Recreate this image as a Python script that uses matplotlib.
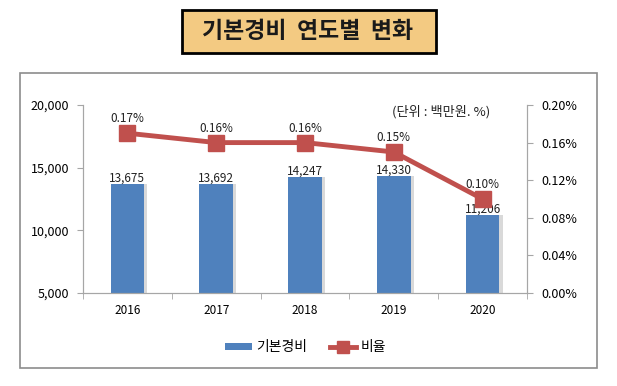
import matplotlib.pyplot as plt
from matplotlib.patches import Rectangle
from matplotlib.lines import Line2D
from matplotlib.patches import Patch

plt.rcParams['font.family'] = ['Noto Sans CJK KR', 'DejaVu Sans']

years = ['2016', '2017', '2018', '2019', '2020']
cost = [13675, 13692, 14247, 14330, 11206]
ratio = [0.17, 0.16, 0.16, 0.15, 0.10]

bar_color = '#4F81BD'
line_color = '#C0504D'
axis_grey = '#A6A6A6'

fig = plt.figure(figsize=(6.17, 3.86), dpi=100)

# outer chart border
fig.patches.append(Rectangle((20 / 617, 1 - 368 / 386), 577 / 617, 295 / 386,
                             transform=fig.transFigure, fill=False,
                             edgecolor='#8C8C8C', linewidth=1.2))

# title box
fig.patches.append(Rectangle((182 / 617, 1 - 53 / 386), 254 / 617, 43 / 386,
                             transform=fig.transFigure, facecolor='#F3CA82',
                             edgecolor='black', linewidth=2))
fig.text(308 / 617, 1 - 32 / 386, '기본경비  연도별  변화', ha='center', va='center',
         fontsize=16.5, fontweight='bold', color='#1a1a1a')

ax = fig.add_axes([83 / 617, 1 - 293 / 386, 444 / 617, 188 / 386])
x = list(range(len(years)))
shadow_x = [i + 0.035 for i in x]
ax.bar(shadow_x, cost, width=0.38, color='#D9D9D9', zorder=1)
bars = ax.bar(x, cost, width=0.38, color=bar_color, zorder=2)
ax.set_ylim(5000, 20000)
ax.set_xlim(-0.5, 4.5)
ax.set_yticks([5000, 10000, 15000, 20000])
ax.set_yticklabels(['{:,}'.format(v) for v in [5000, 10000, 15000, 20000]])
ax.set_xticks(x)
ax.set_xticklabels(years)
ax.set_xticks([i + 0.5 for i in range(-1, 5)], minor=True)
ax.tick_params(axis='x', which='major', length=0, pad=8, labelsize=8.5)
ax.tick_params(axis='x', which='minor', length=4, color=axis_grey)
ax.tick_params(axis='y', length=4, color=axis_grey, labelsize=9, pad=6)
for v, b in zip(cost, bars):
    ax.text(b.get_x() + b.get_width() / 2, v - 60, '{:,}'.format(v),
            ha='center', va='bottom', fontsize=8.5, color='#222222', zorder=5)

ax2 = ax.twinx()
ax2.plot(x, ratio, color=line_color, linewidth=3.5, marker='s',
         markersize=11, zorder=4)
ax2.set_ylim(0, 0.20)
ax2.set_yticks([0, 0.04, 0.08, 0.12, 0.16, 0.20])
ax2.set_yticklabels(['{:.2f}%'.format(v) for v in [0, 0.04, 0.08, 0.12, 0.16, 0.20]])
ax2.tick_params(axis='y', length=4, color=axis_grey, labelsize=9, pad=6)
for i, r in enumerate(ratio):
    ax2.text(i, r + 0.0085, '{:.2f}%'.format(r), ha='center', va='bottom',
             fontsize=8.5, color='#222222')

for a in (ax, ax2):
    a.spines['top'].set_visible(False)
    for s in ('left', 'right', 'bottom'):
        a.spines[s].set_color(axis_grey)

ax2.text(0.806, 0.963, '(단위 : 백만원. %)', transform=ax.transAxes,
         ha='center', va='center', fontsize=9.5, color='#222222')

handles = [Patch(facecolor=bar_color, label='기본경비'),
           Line2D([0], [0], color=line_color, linewidth=3.5, marker='s',
                  markersize=8, label='비율')]
fig.legend(handles=handles, loc='center', bbox_to_anchor=(306 / 617, 1 - 347 / 386),
           ncol=2, frameon=False, fontsize=10, handlelength=1.9,
           handleheight=0.4, columnspacing=1.6, handletextpad=0.35)

fig.savefig('out.png', dpi=100)
